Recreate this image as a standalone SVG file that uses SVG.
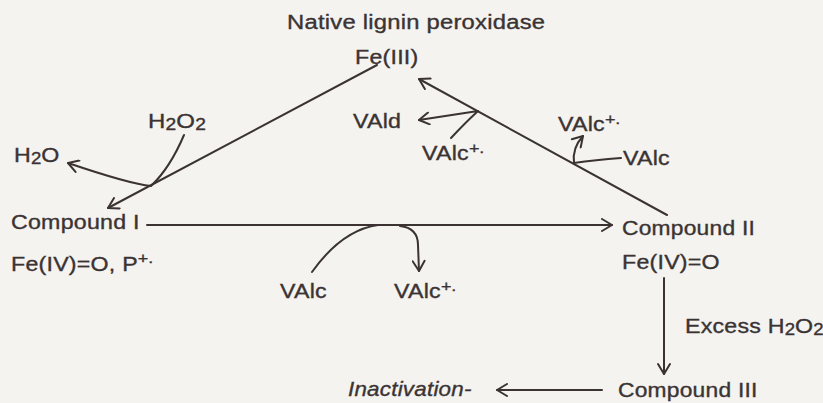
<svg xmlns="http://www.w3.org/2000/svg" width="823" height="403" viewBox="0 0 823 403">
<defs>
<style>
text{font-family:"Liberation Sans",Arial,sans-serif;font-size:20px;fill:#3b3333;stroke:#3b3333;stroke-width:0.35px;letter-spacing:0.2px}
.sup{font-size:15.5px;letter-spacing:0}
.sub{font-size:16px;letter-spacing:0}
.it{font-style:italic}
.c{fill:none;stroke:#3b3333;stroke-width:2;stroke-linecap:round;stroke-linejoin:round}
</style>
<marker id="ah" markerUnits="userSpaceOnUse" markerWidth="14" markerHeight="14" viewBox="0 0 14 14" refX="12" refY="7" orient="auto">
<path d="M2,1 L12,7 L2,13" fill="none" stroke="#3b3333" stroke-width="2" stroke-linecap="round" stroke-linejoin="round"/>
</marker>
</defs>
<rect width="823" height="403" fill="#f4f3f0"/>
<g id="connectors">
<path class="c" d="M377,65 L108,208" marker-end="url(#ah)"/>
<path class="c" d="M184,135 Q170,168 151,186 Q130,184 68,163" marker-end="url(#ah)"/>
<path class="c" d="M667,215 L419,79" marker-end="url(#ah)"/>
<path class="c" d="M451,138 Q466,122 478,111 L419,120" marker-end="url(#ah)"/>
<path class="c" d="M621,158 Q595,160 574,163 Q572,148 583,136" marker-end="url(#ah)"/>
<path class="c" d="M147,225 L612,225" marker-end="url(#ah)"/>
<path class="c" d="M312,272 Q342,230 378,225"/>
<path class="c" d="M400,226 Q418,228 418,245 L419,271" marker-end="url(#ah)"/>
<path class="c" d="M664,278 L664,374" marker-end="url(#ah)"/>
<path class="c" d="M602,390 L497,390" marker-end="url(#ah)"/>
</g>
<g id="native"><text transform="translate(287 29) scale(1.19 1)">Native lignin peroxidase</text><text transform="translate(355 64) scale(1.16 1)">Fe(III)</text></g>
<g id="h2o2"><text transform="translate(148 128) scale(1.2 1)">H<tspan class="sub" dy="2">2</tspan><tspan dy="-2">O</tspan><tspan class="sub" dy="2">2</tspan></text></g>
<g id="h2o"><text transform="translate(14 162) scale(1.16 1)">H<tspan class="sub" dy="2">2</tspan><tspan dy="-2">O</tspan></text></g>
<g id="vald"><text transform="translate(353 128) scale(1.16 1)">VAld</text></g>
<g id="valc-rad-1"><text transform="translate(558 131) scale(1.16 1)">VAlc<tspan class="sup" dy="-7">+.</tspan></text></g>
<g id="valc-rad-2"><text transform="translate(422 160) scale(1.16 1)">VAlc<tspan class="sup" dy="-7">+.</tspan></text></g>
<g id="valc-1"><text transform="translate(623 165) scale(1.16 1)">VAlc</text></g>
<g id="compound1"><text transform="translate(11 229) scale(1.16 1)">Compound I</text><text transform="translate(11 271) scale(1.16 1)">Fe(IV)=O, P<tspan class="sup" dy="-8">+.</tspan></text></g>
<g id="valc-2"><text transform="translate(280 298) scale(1.16 1)">VAlc</text></g>
<g id="valc-rad-3"><text transform="translate(394 298) scale(1.16 1)">VAlc<tspan class="sup" dy="-7">+.</tspan></text></g>
<g id="compound2"><text transform="translate(622 235) scale(1.14 1)">Compound II</text><text transform="translate(622 269) scale(1.16 1)">Fe(IV)=O</text></g>
<g id="excess"><text transform="translate(685 333) scale(1.16 1)">Excess H<tspan class="sub" dy="2">2</tspan><tspan dy="-2">O</tspan><tspan class="sub" dy="2">2</tspan></text></g>
<g id="inactivation"><text class="it" transform="translate(348 396) scale(1.12 1)">Inactivation-</text></g>
<g id="compound3"><text transform="translate(618 397) scale(1.14 1)">Compound III</text></g>
</svg>
